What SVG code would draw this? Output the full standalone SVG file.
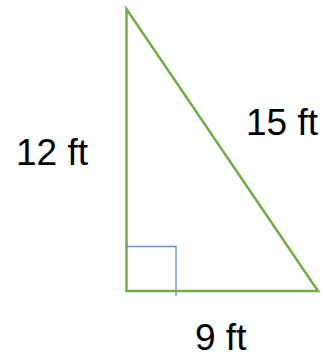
<svg xmlns="http://www.w3.org/2000/svg" width="323" height="354" viewBox="0 0 323 354">
<style>
.side{fill:none;stroke:#70AD47;stroke-width:2.5;stroke-linejoin:miter}
.mark{fill:none;stroke:#6A8FD6;stroke-width:1.3}
.lbl{font-family:"Liberation Sans",Arial,sans-serif;font-size:37px;fill:#000}
</style>
<rect width="323" height="354" fill="#fff"/>
<g id="triangle">
<polygon class="side" points="126.5,9 126.5,291 318,291"/>
</g>
<g id="right-angle">
<polyline class="mark" points="126.5,246.5 176,246.5 176,296"/>
</g>
<g id="connectors"></g>
<g id="label-12"><text class="lbl" x="16" y="164.5">12 ft</text></g>
<g id="label-15"><text class="lbl" x="246" y="134.5">15 ft</text></g>
<g id="label-9"><text class="lbl" x="195" y="350">9 ft</text></g>
</svg>
